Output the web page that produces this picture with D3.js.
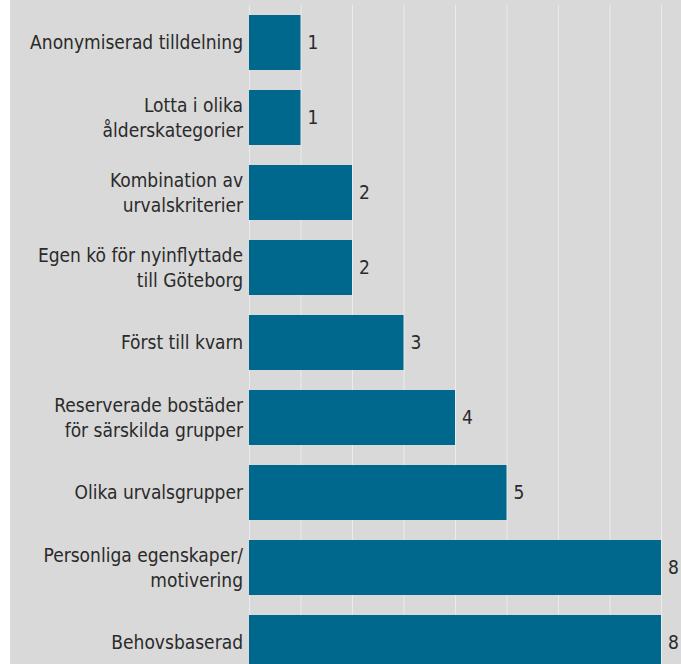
<!DOCTYPE html>
<html>
<head>
<meta charset="utf-8">
<script src="https://cdn.jsdelivr.net/npm/d3@7"></script>
<style>
  html, body { margin: 0; padding: 0; background: #ffffff; }
  svg { display: block; }
  text { font-family: "DejaVu Sans Condensed", "DejaVu Sans", sans-serif; font-stretch: condensed; }
</style>
</head>
<body>
<svg id="chart" width="681" height="664"></svg>
<script>
// Category labels, one entry per line of each wrapped label
const categories = [
  ["Anonymiserad tilldelning"],
  ["Lotta i olika", "ålderskategorier"],
  ["Kombination av", "urvalskriterier"],
  ["Egen kö för nyinflyttade", "till Göteborg"],
  ["Först till kvarn"],
  ["Reserverade bostäder", "för särskilda grupper"],
  ["Olika urvalsgrupper"],
  ["Personliga egenskaper/", "motivering"],
  ["Behovsbaserad"]
];
const values = [1, 1, 2, 2, 3, 4, 5, 8, 8];
const gridTicks = [0, 1, 2, 3, 4, 5, 6, 7, 8];

const svg = d3.select("#chart");
const W = 681, H = 664;
const fontSize = 19;

// panel background
svg.append("rect")
  .attr("x", 10).attr("y", 0)
  .attr("width", W - 10).attr("height", H)
  .attr("fill", "#d9d9d9");

const x = d3.scaleLinear().domain([0, 8]).range([249, 661]);
const keys = categories.map((c, i) => i);
const y = d3.scaleBand().domain(keys).range([5, 680]).paddingInner(20 / 75).paddingOuter(10 / 75);

// vertical grid lines
svg.append("g")
  .selectAll("line")
  .data(gridTicks)
  .join("line")
  .attr("x1", d => x(d) + 0.5).attr("x2", d => x(d) + 0.5)
  .attr("y1", 5).attr("y2", H)
  .attr("stroke", "#ebebeb")
  .attr("stroke-width", 1);

// bars
svg.append("g")
  .selectAll("rect")
  .data(values)
  .join("rect")
  .attr("x", x(0))
  .attr("y", (d, i) => y(i))
  .attr("width", d => x(d) - x(0))
  .attr("height", y.bandwidth())
  .attr("fill", "#00688c");

// value labels
svg.append("g")
  .selectAll("text")
  .data(values)
  .join("text")
  .attr("x", d => x(d) + 7)
  .attr("y", (d, i) => y(i) + y.bandwidth() / 2)
  .attr("dy", "0.35em")
  .attr("font-size", fontSize)
  .attr("fill", "#2a2a2a")
  .text(d => d);

// category labels
const lineH = 25;
const lab = svg.append("g")
  .selectAll("text")
  .data(categories)
  .join("text")
  .attr("text-anchor", "end")
  .attr("font-size", fontSize)
  .attr("fill", "#2a2a2a")
  .attr("x", 243)
  .attr("y", (d, i) => y(i) + y.bandwidth() / 2);

lab.selectAll("tspan")
  .data(d => d.map((t, j) => ({ t, j, n: d.length })))
  .join("tspan")
  .attr("x", 243)
  .attr("dy", d => d.j === 0 ? (0.35 * fontSize - (d.n - 1) * lineH / 2) : lineH)
  .text(d => d.t);
</script>
</body>
</html>
